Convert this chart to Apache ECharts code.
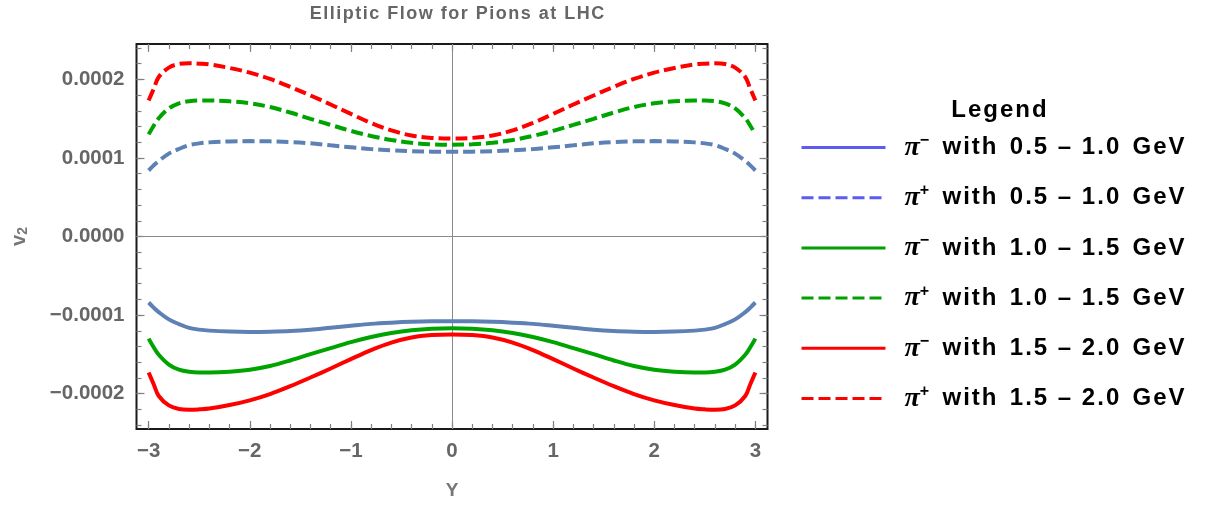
<!DOCTYPE html>
<html>
<head>
<meta charset="utf-8">
<script src="https://cdn.jsdelivr.net/npm/echarts@6/dist/echarts.min.js"></script>
<style>html,body{margin:0;padding:0;background:#fff}#c{width:1207px;height:505px}</style>
</head>
<body>
<div id="c"></div>
<script>
// ---- data ----
const xs = [-3,-2.95,-2.9,-2.8,-2.7,-2.6,-2.5,-2.4,-2.2,-2,-1.8,-1.6,-1.4,-1.2,-1,-0.8,-0.6,-0.4,-0.2,0,0.2,0.4,0.6,0.8,1,1.2,1.4,1.6,1.8,2,2.2,2.4,2.5,2.6,2.7,2.8,2.9,2.95,3];

const piMinus_05_10 = [-0.84e-4,-0.905e-4,-0.962e-4,-1.055e-4,-1.115e-4,-1.163e-4,-1.185e-4,-1.198e-4,-1.21e-4,-1.214e-4,-1.211e-4,-1.203e-4,-1.186e-4,-1.16e-4,-1.135e-4,-1.112e-4,-1.097e-4,-1.086e-4,-1.08e-4,-1.079e-4,-1.08e-4,-1.086e-4,-1.097e-4,-1.112e-4,-1.135e-4,-1.16e-4,-1.186e-4,-1.203e-4,-1.211e-4,-1.214e-4,-1.21e-4,-1.198e-4,-1.185e-4,-1.163e-4,-1.115e-4,-1.055e-4,-0.962e-4,-0.905e-4,-0.84e-4];
const piPlus_05_10 = [0.84e-4,0.905e-4,0.962e-4,1.055e-4,1.115e-4,1.163e-4,1.185e-4,1.198e-4,1.21e-4,1.214e-4,1.211e-4,1.203e-4,1.186e-4,1.16e-4,1.135e-4,1.112e-4,1.097e-4,1.086e-4,1.08e-4,1.079e-4,1.08e-4,1.086e-4,1.097e-4,1.112e-4,1.135e-4,1.16e-4,1.186e-4,1.203e-4,1.211e-4,1.214e-4,1.21e-4,1.198e-4,1.185e-4,1.163e-4,1.115e-4,1.055e-4,0.962e-4,0.905e-4,0.84e-4];
const piMinus_10_15 = [-1.30e-4,-1.41e-4,-1.505e-4,-1.63e-4,-1.695e-4,-1.722e-4,-1.73e-4,-1.73e-4,-1.72e-4,-1.695e-4,-1.648e-4,-1.578e-4,-1.498e-4,-1.42e-4,-1.345e-4,-1.28e-4,-1.228e-4,-1.192e-4,-1.173e-4,-1.168e-4,-1.173e-4,-1.192e-4,-1.228e-4,-1.28e-4,-1.345e-4,-1.42e-4,-1.498e-4,-1.578e-4,-1.648e-4,-1.695e-4,-1.72e-4,-1.73e-4,-1.73e-4,-1.722e-4,-1.695e-4,-1.63e-4,-1.505e-4,-1.41e-4,-1.30e-4];
const piPlus_10_15 = [1.30e-4,1.41e-4,1.505e-4,1.63e-4,1.695e-4,1.722e-4,1.73e-4,1.73e-4,1.72e-4,1.695e-4,1.648e-4,1.578e-4,1.498e-4,1.42e-4,1.345e-4,1.28e-4,1.228e-4,1.192e-4,1.173e-4,1.168e-4,1.173e-4,1.192e-4,1.228e-4,1.28e-4,1.345e-4,1.42e-4,1.498e-4,1.578e-4,1.648e-4,1.695e-4,1.72e-4,1.73e-4,1.73e-4,1.722e-4,1.695e-4,1.63e-4,1.505e-4,1.41e-4,1.30e-4];
const piMinus_15_20 = [-1.73e-4,-1.88e-4,-2.03e-4,-2.15e-4,-2.196e-4,-2.205e-4,-2.20e-4,-2.19e-4,-2.145e-4,-2.085e-4,-2.005e-4,-1.905e-4,-1.795e-4,-1.68e-4,-1.56e-4,-1.445e-4,-1.35e-4,-1.285e-4,-1.255e-4,-1.247e-4,-1.255e-4,-1.285e-4,-1.35e-4,-1.445e-4,-1.56e-4,-1.68e-4,-1.795e-4,-1.905e-4,-2.005e-4,-2.085e-4,-2.145e-4,-2.19e-4,-2.20e-4,-2.205e-4,-2.196e-4,-2.15e-4,-2.03e-4,-1.88e-4,-1.73e-4];
const piPlus_15_20 = [1.73e-4,1.88e-4,2.03e-4,2.15e-4,2.196e-4,2.205e-4,2.20e-4,2.19e-4,2.145e-4,2.085e-4,2.005e-4,1.905e-4,1.795e-4,1.68e-4,1.56e-4,1.445e-4,1.35e-4,1.285e-4,1.255e-4,1.247e-4,1.255e-4,1.285e-4,1.35e-4,1.445e-4,1.56e-4,1.68e-4,1.795e-4,1.905e-4,2.005e-4,2.085e-4,2.145e-4,2.19e-4,2.20e-4,2.205e-4,2.196e-4,2.15e-4,2.03e-4,1.88e-4,1.73e-4];

const charges = ['−','+','−','+','−','+'];
const ranges = ['0.5 – 1.0','0.5 – 1.0','1.0 – 1.5','1.0 – 1.5','1.5 – 2.0','1.5 – 2.0'];
const xMajorTicks = [-3,-2,-1,0,1,2,3];
const xMinorTicks = [-3,-2.8,-2.6,-2.4,-2.2,-2,-1.8,-1.6,-1.4,-1.2,-1,-0.8,-0.6,-0.4,-0.2,0,0.2,0.4,0.6,0.8,1,1.2,1.4,1.6,1.8,2,2.2,2.4,2.6,2.8,3];
const yMajorTicks = [-0.0002,-0.0001,0,0.0001,0.0002];
const yMinorTicks = [-0.00024,-0.00022,-0.0002,-0.00018,-0.00016,-0.00014,-0.00012,-0.0001,-0.00008,-0.00006,-0.00004,-0.00002,0,0.00002,0.00004,0.00006,0.00008,0.0001,0.00012,0.00014,0.00016,0.00018,0.0002,0.00022,0.00024];

// ---- chart ----
const seriesData = [piMinus_05_10, piPlus_05_10, piMinus_10_15, piPlus_10_15, piMinus_15_20, piPlus_15_20];
const plotColors = ['#5e81b5','#5e81b5','#00a400','#00a400','#ff0000','#ff0000'];
const legendColors = ['#5c5cf2','#5c5cf2','#00a000','#00a000','#ff0000','#ff0000'];
const dashed = [false,true,false,true,false,true];
const names = charges.map((c,i)=>'π' + c + ' with ' + ranges[i] + ' GeV');

const HS = '\u200A';
const track = s => s.split('').join(HS);

const X_MIN = -3.12, X_MAX = 3.12, Y_MIN = -0.000245, Y_MAX = 0.000245;
const tickColor = '#808080';
const labelColor = '#666666';

function xAx(pos, values, len, labels) {
  return {
    type: 'value', position: pos, min: X_MIN, max: X_MAX,
    axisLine: {show: false, onZero: false}, splitLine: {show: false},
    axisTick: {show: true, inside: true, length: len, customValues: values, lineStyle: {color: tickColor, width: 1.2}},
    axisLabel: labels ? {show: true, customValues: xMajorTicks, margin: 12, color: labelColor, fontSize: 20.5, fontWeight: 'bold', fontFamily: 'Liberation Sans',
      formatter: v => (v < 0 ? '−' : '') + Math.abs(Math.round(v))} : {show: false}
  };
}
function yAx(pos, values, len, labels) {
  return {
    type: 'value', position: pos, min: Y_MIN, max: Y_MAX,
    axisLine: {show: false, onZero: false}, splitLine: {show: false},
    axisTick: {show: true, inside: true, length: len, customValues: values, lineStyle: {color: tickColor, width: 1.2}},
    axisLabel: labels ? {show: true, customValues: yMajorTicks, margin: 12, color: labelColor, fontSize: 20.5, fontWeight: 'bold', fontFamily: 'Liberation Sans',
      formatter: v => (v < -1e-12 ? '−' : '') + Math.abs(v).toFixed(4)} : {show: false}
  };
}

const xAxes = [xAx('bottom', xMajorTicks, 8, true), xAx('bottom', xMinorTicks, 5, false), xAx('top', xMajorTicks, 8, false), xAx('top', xMinorTicks, 5, false)];
xAxes[0].name = 'Y';
xAxes[0].nameLocation = 'middle';
xAxes[0].nameGap = 52;
xAxes[0].nameTextStyle = {color: '#777', fontSize: 19, fontWeight: 'bold', fontFamily: 'Liberation Sans'};
const yAxes = [yAx('left', yMajorTicks, 8, true), yAx('left', yMinorTicks, 5, false), yAx('right', yMajorTicks, 8, false), yAx('right', yMinorTicks, 5, false)];
yAxes[0].name = '{v|v}{s|2}';
yAxes[0].nameLocation = 'middle';
yAxes[0].nameRotate = 90;
yAxes[0].nameGap = 106;
yAxes[0].nameTextStyle = {color: '#777', fontFamily: 'Liberation Sans', fontWeight: 'bold',
  rich: {v: {fontSize: 20, fontWeight: 'bold', color: '#777', lineHeight: 22}, s: {fontSize: 14, fontWeight: 'bold', color: '#777', lineHeight: 12, verticalAlign: 'bottom'}}};

const series = seriesData.map((arr, i) => ({
  name: names[i], type: 'line', xAxisIndex: 0, yAxisIndex: 0,
  data: xs.map((x, j) => [x, arr[j]]),
  showSymbol: false, symbol: 'none', smooth: 0.35, z: 3,
  lineStyle: {color: plotColors[i], width: 4, type: dashed[i] ? [12, 5] : 'solid', cap: 'butt'},
  itemStyle: {color: plotColors[i]}
}));
series[0].markLine = {
  silent: true, symbol: 'none', label: {show: false},
  lineStyle: {color: '#8a8a8a', width: 1, type: 'solid'},
  data: [{xAxis: 0}, {yAxis: 0}], z: 1
};

const option = {
  animation: false,
  backgroundColor: '#ffffff',
  title: [
    {text: track('Elliptic Flow for Pions at LHC'), left: 452, top: 0, textAlign: 'center',
     textStyle: {color: '#666', fontSize: 18, fontWeight: 'bold', fontFamily: 'Liberation Sans'}},
    {text: track('Legend'), left: 994, top: 93, textAlign: 'center',
     textStyle: {color: '#000', fontSize: 24, fontWeight: 'bold', fontFamily: 'Liberation Sans'}}
  ],
  grid: {left: 136.5, right: 439.5, top: 44, bottom: 72, show: true, borderColor: '#1a1a1a', borderWidth: 2, backgroundColor: 'transparent', containLabel: false},
  legend: {
    orient: 'vertical', left: 800, top: 132.5, padding: 0, itemWidth: 84, itemHeight: 2, itemGap: 21.2,
    data: names.map((n, i) => ({name: n,
      itemStyle: {opacity: 0},
      lineStyle: {color: legendColors[i], width: 3, type: dashed[i] ? [12, 5] : 'solid'}})),
    formatter: n => { const i = names.indexOf(n); return '{pi|π}{sup|' + charges[i] + '}{t|  ' + track('with') + '  ' + track(ranges[i]) + '  ' + track('GeV') + '}'; },
    textStyle: {
      color: '#000',
      rich: {
        pi: {fontFamily: 'Liberation Serif', fontStyle: 'italic', fontWeight: 'bold', fontSize: 28, color: '#000', lineHeight: 30, padding: [0, 0, 0, 14]},
        sup: {fontFamily: 'Liberation Sans', fontWeight: 'bold', fontSize: 16, color: '#000', lineHeight: 14, verticalAlign: 'top'},
        t: {fontFamily: 'Liberation Sans', fontWeight: 'bold', fontSize: 24, color: '#000', lineHeight: 30}
      }
    }
  },
  xAxis: xAxes,
  yAxis: yAxes,
  series: series
};
const chart = echarts.init(document.getElementById('c'), null, {renderer: 'canvas'});
chart.setOption(option);
</script>
</body>
</html>
